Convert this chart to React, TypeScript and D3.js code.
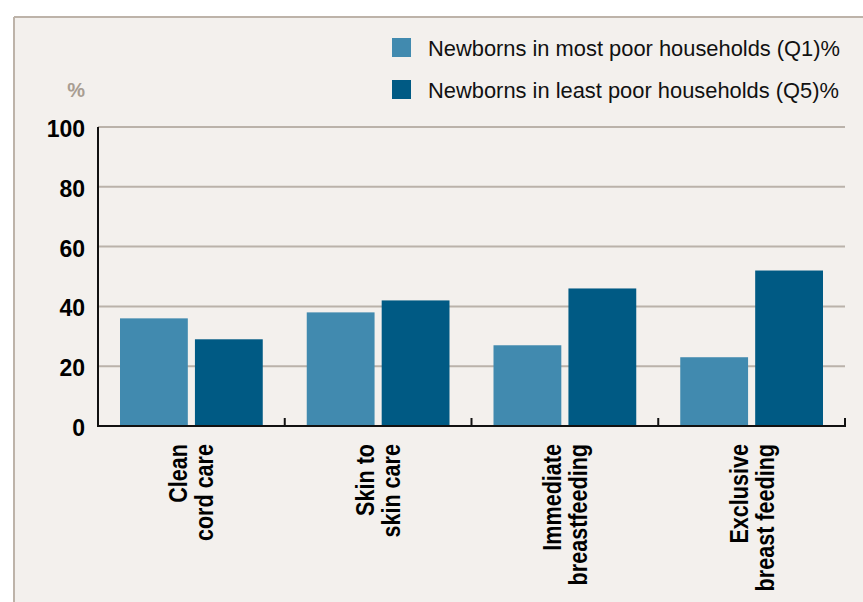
import * as d3 from "d3";

const categories = [
  ["Clean", "cord care"],
  ["Skin to", "skin care"],
  ["Immediate", "breastfeeding"],
  ["Exclusive", "breast feeding"],
];
const poorest = [36, 38, 27, 23];
const richest = [29, 42, 46, 52];
const seriesNames = [
  "Newborns in most poor households (Q1)%",
  "Newborns in least poor households (Q5)%",
];
const seriesColors = ["#418aaf", "#005a84"];
const yTicks = [0, 20, 40, 60, 80, 100];

const W = 863;
const H = 602;
const plot = { left: 98, right: 845, top: 127, bottom: 426 };

export default function App() {
  const x = d3
    .scaleBand<number>()
    .domain(d3.range(categories.length))
    .range([plot.left, plot.right]);
  const inner = d3
    .scaleBand<number>()
    .domain([0, 1])
    .range([22, x.bandwidth() - 22])
    .paddingInner(0.095);
  const y = d3.scaleLinear().domain([0, 100]).range([plot.bottom, plot.top]);
  const series = [poorest, richest];
  const boundaries = d3.range(categories.length + 1).map((i) => plot.left + i * x.step());

  return (
    <svg
      width={W}
      height={H}
      style={{ position: "absolute", left: 0, top: 0, display: "block" }}
    >
      <rect x={0} y={0} width={W} height={H} fill="#ffffff" />
      <rect x={14} y={17} width={W} height={H} fill="#f3f0ed" />
      <line x1={14} y1={17} x2={W} y2={17} stroke="#bdb3a9" strokeWidth={2} />
      <line x1={14} y1={17} x2={14} y2={H} stroke="#bdb3a9" strokeWidth={2} />

      {/* gridlines */}
      {yTicks
        .filter((t) => t > 0)
        .map((t) => (
          <line
            key={t}
            x1={plot.left}
            x2={plot.right}
            y1={y(t)}
            y2={y(t)}
            stroke="#bab2aa"
            strokeWidth={2}
          />
        ))}

      {/* bars */}
      {series.map((vals, s) =>
        vals.map((v, i) => (
          <rect
            key={s + "-" + i}
            x={(x(i) ?? 0) + (inner(s) ?? 0)}
            width={inner.bandwidth()}
            y={y(v)}
            height={y(0) - y(v)}
            fill={seriesColors[s]}
          />
        ))
      )}

      {/* axes */}
      <line x1={plot.left} x2={plot.left} y1={plot.top} y2={plot.bottom} stroke="#111" strokeWidth={2} />
      <line x1={plot.left - 1} x2={plot.right + 1} y1={plot.bottom} y2={plot.bottom} stroke="#111" strokeWidth={2} />
      {boundaries.slice(1).map((bx, i) => (
        <line key={i} x1={bx} x2={bx} y1={plot.bottom} y2={plot.bottom - 8} stroke="#111" strokeWidth={2} />
      ))}

      {/* y tick labels */}
      {yTicks.map((t) => (
        <text
          key={t}
          x={85}
          y={y(t) + 10}
          textAnchor="end"
          fontFamily="Liberation Sans, Arial, sans-serif"
          fontWeight={700}
          fontSize={23}
          fill="#000"
        >
          {t}
        </text>
      ))}
      <text
        x={85}
        y={97}
        textAnchor="end"
        fontFamily="Liberation Sans, Arial, sans-serif"
        fontWeight={700}
        fontSize={20}
        fill="#a89d92"
      >
        %
      </text>

      {/* category labels (condensed bold) */}
      {categories.map((lines, i) => {
        const cx = (x(i) ?? 0) + x.bandwidth() / 2;
        return lines.map((ln, j) => (
          <text
            key={i + "-" + j}
            transform={`translate(${cx - 4 + j * 26},444) rotate(-90) scale(0.83,1)`}
            textAnchor="end"
            fontFamily="Liberation Sans, Arial, sans-serif"
            fontWeight={700}
            fontSize={26}
            fill="#000"
          >
            {ln}
          </text>
        ));
      })}

      {/* legend */}
      {seriesNames.map((name, s) => (
        <g key={s} transform={`translate(392,${38 + s * 42})`}>
          <rect width={19} height={19} fill={seriesColors[s]} />
          <text
            x={36}
            y={18}
            fontFamily="Liberation Sans, Arial, sans-serif"
            fontSize={22}
            textLength={s === 0 ? 412 : 411}
            lengthAdjust="spacingAndGlyphs"
            fill="#111"
          >
            {name}
          </text>
        </g>
      ))}
    </svg>
  );
}
